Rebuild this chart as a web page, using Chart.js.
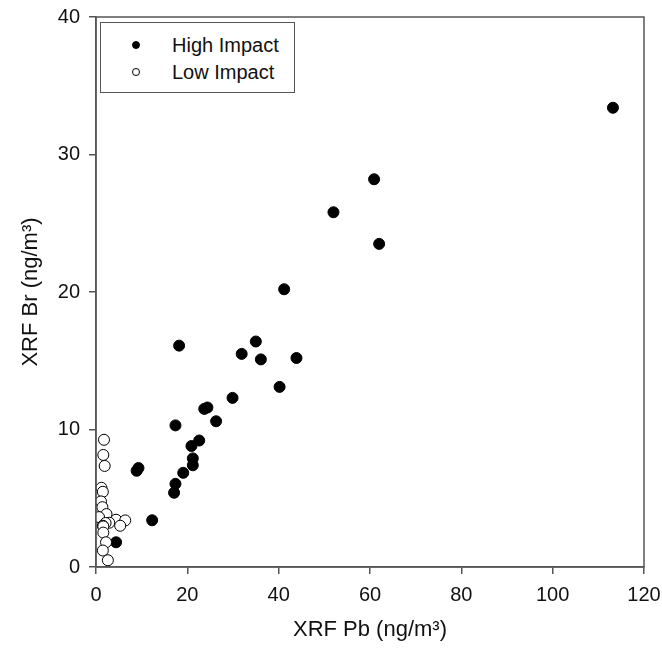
<!DOCTYPE html>
<html>
<head>
<meta charset="utf-8">
<script src="https://cdn.jsdelivr.net/npm/chart.js@4"></script>
<style>
  body { margin: 0; background: #fff; }
  #wrap { position: relative; width: 662px; height: 659px; }
  #legend {
    position: absolute; left: 100px; top: 22px; width: 193px; height: 69px;
    border: 1.5px solid #555; background: #fff;
    font-family: "Liberation Sans", Arial, sans-serif; font-size: 20px; color: #111;
  }
  .row { position: absolute; left: 0; height: 24px; line-height: 24px; }
  .dot { position: absolute; left: 31px; top: 8px; width: 8px; height: 8px; border-radius: 50%; box-sizing: border-box; border: 1px solid #000; }
  .lbl { position: absolute; left: 71px; top: 0; white-space: nowrap; }
</style>
</head>
<body>
<div id="wrap">
  <canvas id="scatterCTX" width="662" height="659"></canvas>
  <div id="legend"></div>
</div>
<script>
const seriesNames = ["High Impact", "Low Impact"];

// High Impact sites (Pb, Br) in ng/m3
const highPb = [113.2, 60.9, 52.0, 62.0, 41.2, 18.2, 35.0, 31.9, 36.1, 43.9, 40.2, 29.9, 23.7, 24.4, 26.3, 17.4, 22.6, 20.9, 21.2, 21.2, 19.1, 9.3, 8.9, 17.4, 17.1, 12.3, 4.4];
const highBr = [33.4, 28.2, 25.8, 23.5, 20.2, 16.1, 16.4, 15.5, 15.1, 15.2, 13.1, 12.3, 11.5, 11.6, 10.6, 10.3, 9.2, 8.8, 7.9, 7.4, 6.85, 7.2, 7.0, 6.05, 5.4, 3.4, 1.8];

// Low Impact sites
const lowPb = [1.75, 1.6, 1.9, 1.2, 1.5, 1.1, 1.4, 2.3, 0.66, 4.4, 6.4, 2.9, 2.1, 1.5, 1.6, 5.3, 1.6, 2.2, 1.5, 2.6];
const lowBr = [9.25, 8.15, 7.35, 5.76, 5.47, 4.77, 4.35, 3.85, 3.63, 3.44, 3.39, 3.22, 3.2, 3.0, 2.95, 3.0, 2.5, 1.8, 1.2, 0.49];

const xTicks = [0, 20, 40, 60, 80, 100, 120];
const yTicks = [0, 10, 20, 30, 40];

const font = "'Liberation Sans', Arial, sans-serif";
const axisColor = "#555";

function toPoints(xs, ys) {
  return xs.map((x, i) => ({ x: x, y: ys[i] }));
}

const scatterData = {
  datasets: [
    {
      label: seriesNames[0],
      data: toPoints(highPb, highBr),
      backgroundColor: "#000",
      borderColor: "#000",
      borderWidth: 1,
      pointRadius: 5.5,
      order: 2,
    },
    {
      label: seriesNames[1],
      data: toPoints(lowPb, lowBr),
      backgroundColor: "#fff",
      borderColor: "#000",
      borderWidth: 1,
      pointRadius: 5.5,
      order: 1,
    },
  ],
};

// full box around the plot area
const frame = {
  id: "frame",
  afterDatasetsDraw(chart) {
    const { ctx, chartArea: a } = chart;
    ctx.save();
    ctx.strokeStyle = axisColor;
    ctx.lineWidth = 1.5;
    ctx.strokeRect(a.left, a.top, a.right - a.left, a.bottom - a.top);
    ctx.restore();
  },
};

const scatterOptions = {
  responsive: false,
  animation: false,
  layout: { padding: { top: 17, right: 18, left: 0, bottom: 0 } },
  plugins: { legend: { display: false }, tooltip: { enabled: false } },
  scales: {
    x: {
      type: "linear",
      min: 0,
      max: 120,
      afterFit: (s) => { s.height = 92; s.paddingLeft = 0; s.paddingRight = 0; },
      afterBuildTicks: (s) => { s.ticks = xTicks.map((v) => ({ value: v })); },
      grid: { drawOnChartArea: false, drawTicks: true, tickLength: 7, color: axisColor, lineWidth: 1.5 },
      border: { display: true, color: axisColor, width: 1.5 },
      ticks: { color: "#111", font: { family: font, size: 20 }, padding: 9, maxRotation: 0 },
      title: { display: true, text: "XRF Pb (ng/m³)", color: "#111", font: { family: font, size: 22 }, padding: { top: 0, bottom: 16 } },
    },
    y: {
      type: "linear",
      min: 0,
      max: 40,
      afterFit: (s) => { s.width = 96; s.paddingTop = 0; s.paddingBottom = 0; },
      afterBuildTicks: (s) => { s.ticks = yTicks.map((v) => ({ value: v })); },
      grid: { drawOnChartArea: false, drawTicks: true, tickLength: 7, color: axisColor, lineWidth: 1.5 },
      border: { display: true, color: axisColor, width: 1.5 },
      ticks: { color: "#111", font: { family: font, size: 20 }, padding: 9 },
      title: { display: true, text: "XRF Br (ng/m³)", color: "#111", font: { family: font, size: 22 }, padding: { top: 18, bottom: 0 } },
    },
  },
};

const scatterCTX = new Chart(document.getElementById("scatterCTX"), {
  type: "scatter",
  data: scatterData,
  options: scatterOptions,
  plugins: [frame],
});

// legend box, built from the dataset names
const legendBox = document.getElementById("legend");
scatterData.datasets.forEach((ds, i) => {
  const row = document.createElement("div");
  row.className = "row";
  row.style.top = (10 + i * 27) + "px";
  row.innerHTML = '<span class="dot" style="background:' + ds.backgroundColor + '"></span><span class="lbl">' + ds.label + "</span>";
  legendBox.appendChild(row);
});
</script>
</body>
</html>
